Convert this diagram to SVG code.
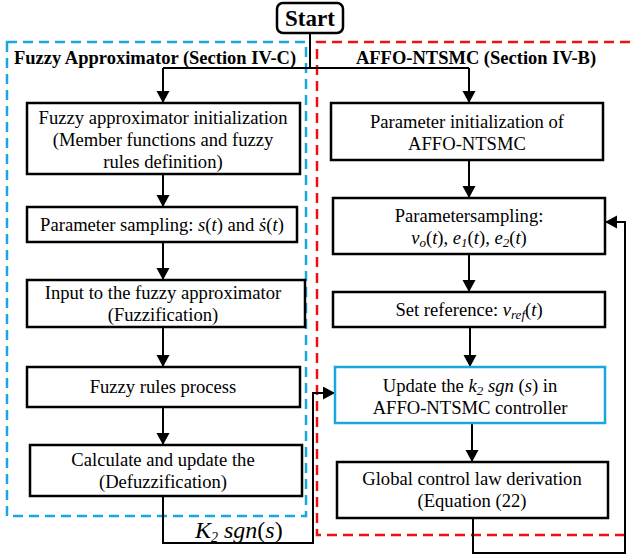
<svg xmlns="http://www.w3.org/2000/svg" width="630" height="556" viewBox="0 0 630 556" font-family="'Liberation Serif', 'Times New Roman', serif">
<style>
text, tspan { font-family: "Liberation Serif", "Times New Roman", serif; }
text { fill: #000; }
.t { font-size: 18.6px; text-anchor: middle; }
.h { font-size: 18.5px; font-weight: bold; }
.i { font-style: italic; }
.box { fill: #fff; stroke: #000; stroke-width: 2.5; }
.ln { fill: none; stroke: #000; stroke-width: 2; }
</style>
<defs>
<marker id="ah" markerWidth="14" markerHeight="14" refX="12" refY="6.5" orient="auto" markerUnits="userSpaceOnUse">
<path d="M0,0 L12,6.5 L0,13 Z" fill="#000"/>
</marker>
</defs>
<rect width="630" height="556" fill="#fff"/>
<g id="regions">
<rect x="7" y="42" width="299" height="474" fill="none" stroke="#1aa7e0" stroke-width="2.5" stroke-dasharray="10,6"/>
<path d="M630,42 H317 V535 H632" fill="none" stroke="#f01010" stroke-width="2.5" stroke-dasharray="10,6"/>
<text class="h" x="14" y="64">Fuzzy Approximator (Section IV-C)</text>
<text class="h" x="476" y="64" text-anchor="middle">AFFO-NTSMC (Section IV-B)</text>
</g>
<g id="connectors">
<path class="ln" d="M310,33 V68"/>
<path class="ln" d="M163,68 H469"/>
<path class="ln" d="M163,68 V103" marker-end="url(#ah)"/>
<path class="ln" d="M469,68 V103" marker-end="url(#ah)"/>
<path class="ln" d="M163,174 V207" marker-end="url(#ah)"/>
<path class="ln" d="M163,242 V280" marker-end="url(#ah)"/>
<path class="ln" d="M163,327 V367" marker-end="url(#ah)"/>
<path class="ln" d="M163,407 V445" marker-end="url(#ah)"/>
<path class="ln" d="M163,496 V543 H313 V393 H335" marker-end="url(#ah)"/>
<path class="ln" d="M469,160 V198" marker-end="url(#ah)"/>
<path class="ln" d="M469,254 V292" marker-end="url(#ah)"/>
<path class="ln" d="M470,327 V367" marker-end="url(#ah)"/>
<path class="ln" d="M472,423 V462" marker-end="url(#ah)"/>
<path class="ln" d="M473,518 V553 H625 V222 H605" marker-end="url(#ah)"/>
<text x="195" y="538" font-size="24" class="i">K<tspan font-size="14" dy="4">2</tspan><tspan dy="-4"> sgn</tspan><tspan font-style="normal">(</tspan>s<tspan font-style="normal">)</tspan></text>
</g>
<g id="start">
<rect x="277" y="3" width="66" height="30" rx="6" fill="#fff" stroke="#000" stroke-width="2.5"/>
<text x="310" y="26" font-size="23" font-weight="bold" text-anchor="middle">Start</text>
</g>
<g id="fa-init">
<rect class="box" x="27" y="103" width="273" height="71"/>
<text class="t" x="163" y="124">Fuzzy approximator initialization</text>
<text class="t" x="163" y="146">(Member functions and fuzzy</text>
<text class="t" x="163" y="168">rules definition)</text>
</g>
<g id="fa-sampling">
<rect class="box" x="27" y="207" width="270" height="35"/>
<text class="t" x="162" y="231">Parameter sampling: <tspan class="i">s</tspan>(<tspan class="i">t</tspan>) and  <tspan class="i">ṡ</tspan>(<tspan class="i">t</tspan>)</text>
</g>
<g id="fa-input">
<rect class="box" x="27" y="280" width="278" height="47"/>
<text class="t" x="163" y="299">Input to the fuzzy approximator</text>
<text class="t" x="163" y="321">(Fuzzification)</text>
</g>
<g id="fa-rules">
<rect class="box" x="27" y="367" width="273" height="40"/>
<text class="t" x="163" y="393">Fuzzy rules process</text>
</g>
<g id="fa-defuzz">
<rect class="box" x="30" y="445" width="272" height="51"/>
<text class="t" x="163" y="466">Calculate and update the</text>
<text class="t" x="163" y="488">(Defuzzification)</text>
</g>
<g id="r-init">
<rect class="box" x="331" y="103" width="272" height="57"/>
<text class="t" x="467" y="128">Parameter initialization of</text>
<text class="t" x="467" y="150">AFFO-NTSMC</text>
</g>
<g id="r-sampling">
<rect class="box" x="333" y="198" width="272" height="56"/>
<text class="t" x="469" y="222">Parametersampling:</text>
<text class="t" x="469" y="244"><tspan class="i">v<tspan font-size="13" dy="3">o</tspan></tspan><tspan dy="-3">(</tspan><tspan class="i">t</tspan>), <tspan class="i">e<tspan font-size="13" dy="3">1</tspan></tspan><tspan dy="-3">(</tspan><tspan class="i">t</tspan>), <tspan class="i">e<tspan font-size="13" dy="3">2</tspan></tspan><tspan dy="-3">(</tspan><tspan class="i">t</tspan>)</text>
</g>
<g id="r-ref">
<rect class="box" x="333" y="292" width="272" height="35"/>
<text class="t" x="469" y="316">Set reference: <tspan class="i">v<tspan font-size="13" dy="3">ref</tspan></tspan><tspan dy="-3">(</tspan><tspan class="i">t</tspan>)</text>
</g>
<g id="r-update">
<rect x="335" y="367" width="270" height="56" fill="#fff" stroke="#1aa7e0" stroke-width="2.5"/>
<text class="t" x="470" y="392">Update the <tspan class="i">k<tspan font-size="13" dy="3">2</tspan><tspan dy="-3"> sgn</tspan></tspan> (<tspan class="i">s</tspan>) in</text>
<text class="t" x="470" y="414">AFFO-NTSMC controller</text>
</g>
<g id="r-global">
<rect class="box" x="337" y="462" width="271" height="56"/>
<text class="t" x="472" y="485">Global control law derivation</text>
<text class="t" x="472" y="507">(Equation (22)</text>
</g>
</svg>
